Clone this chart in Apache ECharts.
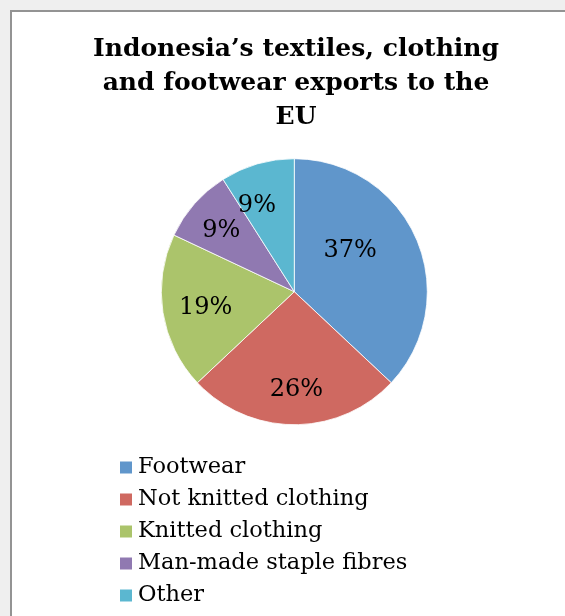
<!DOCTYPE html>
<html>
<head>
<meta charset="utf-8">
<script src="https://cdn.jsdelivr.net/npm/echarts@6/dist/echarts.min.js"></script>
<style>
  html, body { margin: 0; padding: 0; background: #efefef; width: 565px; height: 616px; overflow: hidden; }
  #frame {
    position: absolute; left: 10px; top: 10px;
    width: 560px; height: 610px;
    border-left: 2px solid #939393; border-top: 2px solid #939393;
    background: #ffffff;
  }
  #chart { width: 560px; height: 610px; }
</style>
</head>
<body>
<div id="frame"><div id="chart"></div></div>
<script>
// Export categories and their shares (%)
const categories = ['Footwear', 'Not knitted clothing', 'Knitted clothing', 'Man-made staple fibres', 'Other'];
const shares = [37, 26, 19, 9, 9];
const sliceColors = ['#6096CB', '#CF6961', '#ABC46B', '#9079B1', '#5BB7D0'];

// Small nudges so the percentage labels sit where a best-fit layout puts them
const labelNudges = [[-8, -13], [2, 29], [-20, 5], [-21, -15], [-18, -19]];

const serif = '"DejaVu Serif", "Liberation Serif", serif';

const chart = echarts.init(document.getElementById('chart'), null, { renderer: 'canvas' });

chart.setOption({
  animation: false,
  title: {
    text: 'Indonesia\u2019s textiles, clothing\nand footwear exports to the\nEU',
    left: 284, top: 20, textAlign: 'center', padding: 0,
    textStyle: { fontFamily: serif, fontWeight: 'bold', fontSize: 25, lineHeight: 34, color: '#000' }
  },
  legend: {
    orient: 'vertical',
    left: 106, top: 444, padding: 0,
    itemWidth: 14, itemHeight: 14, itemGap: 9,
    icon: 'rect',
    data: categories,
    textStyle: { fontFamily: serif, fontSize: 22.5, lineHeight: 22, color: '#000' }
  },
  series: [{
    type: 'pie',
    center: [282.3, 279.7],
    radius: 133,
    startAngle: 90,
    clockwise: true,
    color: sliceColors,
    itemStyle: { borderColor: '#ffffff', borderWidth: 0.8 },
    label: {
      position: 'inside',
      formatter: '{d}%',
      fontFamily: serif, fontSize: 24, color: '#000'
    },
    labelLine: { show: false },
    emphasis: { disabled: true },
    data: categories.map((name, i) => ({
      name: name,
      value: shares[i],
      label: { offset: labelNudges[i] }
    }))
  }]
});
</script>
</body>
</html>
